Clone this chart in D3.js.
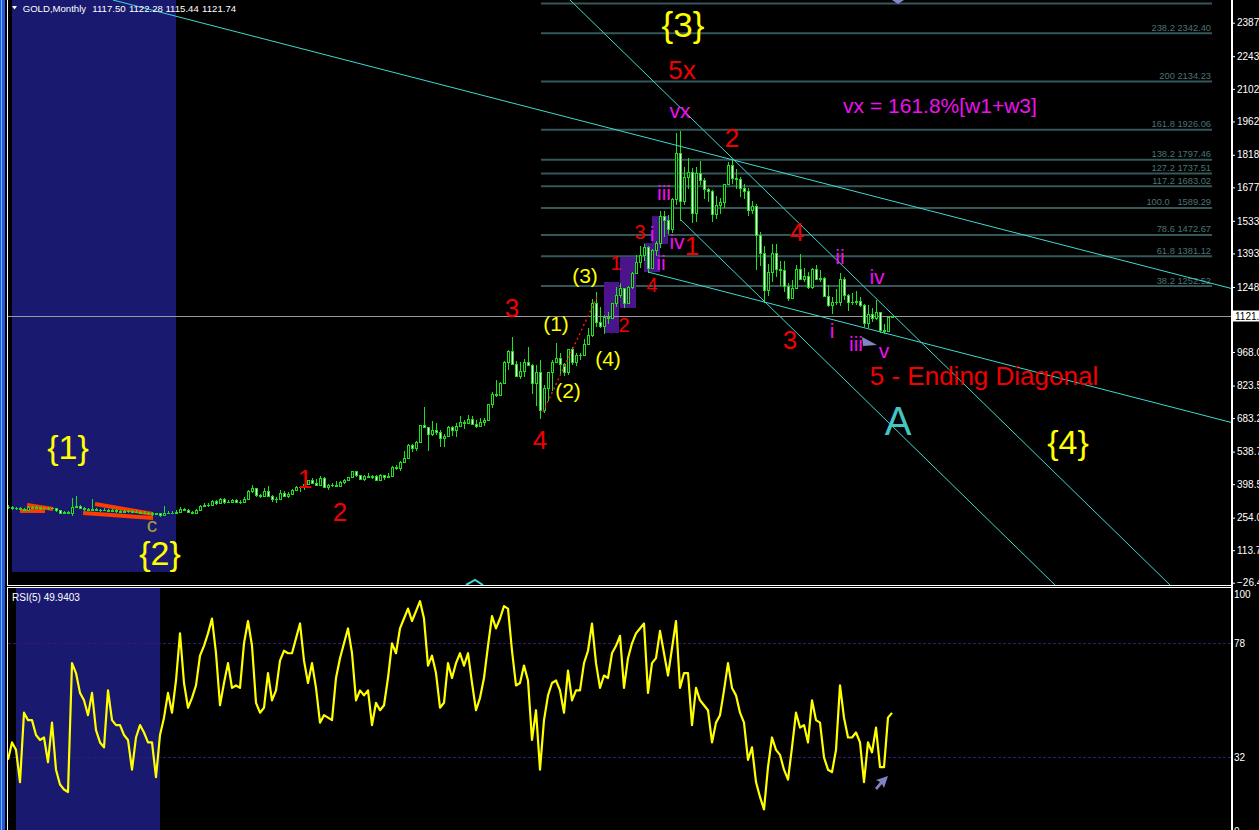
<!DOCTYPE html>
<html><head><meta charset="utf-8">
<script src="https://cdn.jsdelivr.net/npm/d3@7"></script>
<style>
html,body{margin:0;padding:0;background:#000;overflow:hidden}
svg{display:block}
text{font-family:"Liberation Sans",Arial,sans-serif}
</style></head><body>
<svg id="c" width="1259" height="830"></svg>
<script>
// ---------------- DATA ----------------
const symbolTitle = "GOLD,Monthly";
const headerOHLC = ["1117.50", "1122.28", "1115.44", "1121.74"];
const rsiTitle = "RSI(5) 49.9403";

const firstOpen = 302;
// monthly closes, highs, lows (bar index 0 .. 221)
const closes = [
 300,296,294,292,287,300,296,298,294,297, 295,296,285,276,277,275,300,305,296,290,
 288,292,287,285,288,284,286,282,280,284, 281,278,280,276,275,272,270,272,266,272,
 275,276,279,290,288,277,276,288,305,309, 309,326,318,335,322,322,331,322,322,335,
 368,380,352,347,
 367,347,334,336,361,346,354,375,385,386,398,416,
 402,396,426,387,394,395,391,408,416,429,453,438,
 422,435,428,435,417,436,429,433,473,470,495,513,
 568,556,582,654,643,613,632,623,599,604,646,632,
 650,665,663,679,659,650,665,673,743,789,783,834,
 923,971,916,864,885,926,912,833,884,718,815,884,
 927,942,916,883,979,927,955,955,1001,1040,1181,1097,
 1081,1118,1113,1179,1212,1244,1181,1248,1307,1357,1387,1421,
 1332,1410,1439,1556,1536,1500,1628,1826,1620,1722,1746,1566,
 1738,1711,1669,1664,1562,1604,1614,1691,1773,1719,1713,1675,
 1664,1579,1596,1472,1393,1234,1312,1396,1327,1323,1253,1202,
 1244,1326,1284,1296,1250,1327,1282,1287,1210,1172,1182,1184,
 1283,1212,1183,1183,1190,1172,1095,1133,1115,1142,1065,1060,
 1117,1121.74
];
const highs = [
 310,304,300,298,295,306,304,303,300,302, 300,301,297,287,283,281,340,348,309,299,
 295,335,296,291,294,292,291,290,287,289, 288,286,285,284,281,279,277,276,274,305,
 281,282,286,298,295,292,283,293,309,316, 318,330,328,340,338,329,335,334,328,345,
 375,395,383,358,
 383,389,352,341,373,371,366,376,392,392,400,417,
 427,420,432,428,399,403,410,411,419,431,456,457,
 437,437,447,438,436,443,438,448,475,479,497,541,
 570,573,585,654,730,643,669,663,634,613,649,648,
 660,691,673,696,692,676,682,685,745,795,848,837,
 930,975,1033,930,924,938,989,918,912,932,825,881,
 933,1006,964,920,981,990,965,964,1025,1070,1195,1227,
 1162,1126,1139,1181,1249,1266,1245,1254,1315,1388,1424,1432,
 1424,1411,1447,1575,1577,1560,1632,1913,1921,1764,1803,1763,
 1764,1791,1718,1676,1668,1641,1630,1691,1788,1796,1755,1723,
 1694,1676,1617,1605,1487,1423,1348,1433,1434,1362,1361,1267,
 1280,1345,1392,1331,1315,1332,1345,1323,1292,1255,1204,1238,
 1307,1290,1219,1224,1232,1205,1175,1170,1157,1191,1142,1088,
 1123,1122.28
];
const lows = [
 290,289,288,285,281,283,290,292,289,291, 289,290,280,270,271,268,262,296,290,284,
 282,283,281,279,282,278,280,276,274,277, 275,272,273,270,269,266,262,264,258,264,
 268,270,272,275,281,272,270,274,286,298, 300,305,310,314,315,316,318,316,315,318,
 330,362,345,338,
 342,345,320,319,335,341,340,350,369,366,375,398,
 400,392,390,382,372,384,387,388,398,411,423,430,
 419,411,425,420,414,414,417,428,433,460,456,489,
 515,538,540,582,642,542,604,612,560,560,600,608,
 603,648,636,660,654,640,646,648,671,725,776,780,
 834,891,914,862,850,860,907,786,737,681,705,759,
 802,921,865,865,867,912,908,932,952,1000,1033,1075,
 1072,1045,1087,1110,1164,1203,1156,1176,1240,1305,1331,1360,
 1308,1325,1381,1418,1462,1478,1480,1604,1534,1600,1669,1523,
 1530,1689,1627,1613,1527,1540,1562,1587,1691,1692,1672,1635,
 1626,1555,1562,1321,1338,1180,1208,1270,1293,1251,1227,1187,
 1202,1240,1277,1268,1240,1240,1281,1272,1207,1161,1131,1170,
 1167,1191,1143,1170,1169,1162,1077,1072,1098,1106,1052,1046,
 1058,1115.44
];
// RSI(5) per bar
const rsiValues = [
 31,38,35,22,50,47,47,41,39,40, 30,46,27,21,19,18,70,66,58,55,
 49,58,43,38,36,59,47,45,45,41, 39,27,40,45,42,38,38,24,41,48,
 58,50,63,82,62,52,56,61,73,77, 82,88,74,53,62,70,60,61,60,78,
 87,77,54,50,52,66,55,59,71,75, 74,74,80,86,71,62,70,60,46,49,
 48,47,64,72,78,84,74,55,59,57, 59,45,54,51,53,64,78,74,84,88,
 92,87,91,95,88,69,73,66,52,54, 70,64,70,74,69,74,62,51,56,64,
 77,89,84,88,93,92,75,61,62,69, 63,39,51,27,47,57,62,63,59,50,
 67,55,59,59,70,75,86,70,60,65, 64,74,77,81,60,72,78,82,84,86,
 58,70,72,83,74,65,76,87,60,66, 66,45,60,55,53,51,38,46,49,59,
 70,60,57,50,46,31,36,22,16,11, 28,40,35,33,27,23,36,50,44,45,
 38,55,47,46,32,27,26,35,61,48, 40,40,42,38,22,38,34,44,28,28,
 48,49.94
];

const priceTicks = [2387.85,2243.45,2102.50,1962.05,1818.35,1677.90,1533.50,1393.05,1248.65,
  968.05,823.55,683.20,538.70,398.50,254.00,113.70,-26.45];
const rsiTicks = [100,78,32,0];
const rsiLevels = [78,32];

const fibRatios = ["261.8","238.2","200","161.8","138.2","127.2","117.2","100.0","78.6","61.8","38.2"];
const fibPrices = [2471.03,2342.40,2134.23,1926.06,1797.46,1737.51,1683.02,1589.29,1472.67,1381.12,1252.52];
const fibBarSpan = [133.25, 301];

// trend lines: [bar1, price1, bar2, price2]
const cyanLines = [
  [26.25, 2485.7, 305.75, 1242.4],
  [160, 1313.1, 305.75, 664.7],
  [140.5, 2485.7, 290.5, -36.3],
  [168.25, 1537.3, 261.75, -36.3]
];
const orangeLines = [
  [3, 282.8, 9.25, 282.8],
  [4.75, 308.6, 11.25, 291.4],
  [21.75, 313.0, 36.25, 269.8],
  [18.75, 274.2, 36.25, 252.6]
];
const redDotted = [133.75, 709.6, 147.25, 1205.3];
// purple boxes: [barFrom, barTo, priceLow, priceHigh]
const purpleBoxes = [
  [149, 152.75, 1050, 1270],
  [153, 157, 1158, 1378],
  [159, 163, 1313, 1438],
  [161, 165, 1434, 1554]
];
const mainShade = [1, 42, 19.8];
const rsiShade = [2, 38];

// annotations: text, bar, price, font size, colour
const labels = [
  ["{3}",168.75,2382,35,"#ffff00"],["{1}",15,559,34,"#ffff00"],["{2}",38,100,34,"#ffff00"],["{4}",265,580,34,"#ffff00"],
  ["5x",168.5,2184,26,"#f00000"],["2",181,1891,26,"#f00000"],["4",197.25,1485,26,"#f00000"],["3",195.5,1020,26,"#f00000"],
  ["1",74.25,421,26,"#f00000"],["2",83,278,26,"#f00000"],["3",126,1158,26,"#f00000"],["4",133,589,26,"#f00000"],
  ["1",171,1425,26,"#f00000"],["5 - Ending Diagonal",244,865,26,"#f00000"],
  ["1",152,1352,20,"#f00000"],["3",158,1485,20,"#f00000"],["2",154,1085,20,"#f00000"],["4",161,1257,20,"#f00000"],
  ["vx",168,2010,21,"#ee11ee"],["vx = 161.8%[w1+w3]",233,2029,21,"#ee11ee"],["iii",164,1654,21,"#ee11ee"],
  ["i",161,1477,21,"#ee11ee"],["iv",167.25,1445,21,"#ee11ee"],["ii",163.25,1352,21,"#ee11ee"],["ii",208,1382,21,"#ee11ee"],
  ["iv",217.25,1295,21,"#ee11ee"],["i",206,1059,21,"#ee11ee"],["iii",212,1005,21,"#ee11ee"],["v",219,975,21,"#ee11ee"],
  ["(3)",144.25,1300,21,"#ffff00"],["(1)",137,1093,21,"#ffff00"],["(4)",150,938,21,"#ffff00"],["(2)",140,804,21,"#ffff00"],
  ["A",222.5,671,40,"#44c4c4"],["c",36,226,21,"#a0a040"]
];
const markers = {
  iiiArrow: [215.5, 1011],
  topArrow: [222.5, 2485.7],
  cyanChevron: [116.75, -14.7],
  rsiArrow: [218.25, 21.6]
};

// ---------------- CHART ----------------
const W = 1259, H = 830;
const LIME = "#1ee01e";
const svg = d3.select("#c");
svg.append("rect").attr("width", W).attr("height", H).attr("fill", "#000");

const xS = d3.scaleLinear().domain([0, 221]).range([8, 892]);
const yP = d3.scaleLinear().domain([-26.45, 2387.85]).range([582.7, 22.7]);
const yR = d3.scaleLinear().domain([0, 100]).range([836.6, 588.8]);

const defs = svg.append("defs");
defs.append("clipPath").attr("id", "cm").append("rect").attr("x", 8).attr("y", 0).attr("width", 1223).attr("height", 585);
defs.append("clipPath").attr("id", "cr").append("rect").attr("x", 8).attr("y", 588).attr("width", 1223).attr("height", 242);

// window frame stripes
svg.append("rect").attr("x", 0).attr("y", 0).attr("width", 5).attr("height", H).attr("fill", "#1f5bd6");
svg.append("rect").attr("x", 1).attr("y", 0).attr("width", 1).attr("height", H).attr("fill", "#7fb0ff");

// ---- main panel ----
const gM = svg.append("g").attr("clip-path", "url(#cm)");
gM.append("rect").attr("x", xS(mainShade[0])).attr("y", 0)
  .attr("width", xS(mainShade[1]) - xS(mainShade[0])).attr("height", yP(mainShade[2])).attr("fill", "#191970");

// fib levels
const fibG = gM.append("g");
fibG.selectAll("line").data(fibPrices).join("line")
  .attr("x1", xS(fibBarSpan[0])).attr("x2", xS(fibBarSpan[1]))
  .attr("y1", d => yP(d)).attr("y2", d => yP(d))
  .attr("stroke", "#355757").attr("stroke-width", 2);
fibG.selectAll("text").data(fibPrices.filter(d => yP(d) > 12)).join("text")
  .attr("x", xS(fibBarSpan[1]) - 1).attr("y", d => yP(d) - 2.5)
  .attr("text-anchor", "end").attr("font-size", 9.3).attr("fill", "#4a7474")
  .text(d => { const r = fibRatios[fibPrices.indexOf(d)]; return r + (r === "100.0" ? "\u00a0\u00a0\u00a0" : " ") + d.toFixed(2); });

// purple boxes
gM.selectAll("rect.pb").data(purpleBoxes).join("rect").attr("class", "pb")
  .attr("x", d => xS(d[0])).attr("width", d => xS(d[1]) - xS(d[0]))
  .attr("y", d => yP(d[3])).attr("height", d => yP(d[2]) - yP(d[3]))
  .attr("fill", "#4b148c");

// current price line
const lastClose = closes[closes.length - 1];
gM.append("line").attr("x1", 8).attr("x2", 1231)
  .attr("y1", Math.round(yP(lastClose)) + 0.5).attr("y2", Math.round(yP(lastClose)) + 0.5)
  .attr("stroke", "#9a9a9a").attr("stroke-width", 1);

// orange channel strokes
gM.selectAll("line.or").data(orangeLines).join("line").attr("class", "or")
  .attr("x1", d => xS(d[0])).attr("y1", d => yP(d[1])).attr("x2", d => xS(d[2])).attr("y2", d => yP(d[3]))
  .attr("stroke", "#ff3c00").attr("stroke-width", 4);

// candles
const bars = closes.map((c, i) => {
  const o = i ? closes[i - 1] : firstOpen;
  return { i, o, c, h: Math.max(highs[i], o, c), l: Math.min(lows[i], o, c) };
});
const cg = gM.append("g").attr("shape-rendering", "crispEdges");
cg.selectAll("rect.wick").data(bars).join("rect").attr("class", "wick")
  .attr("x", d => Math.round(xS(d.i))).attr("width", 1)
  .attr("y", d => Math.round(yP(d.h)))
  .attr("height", d => Math.max(1, Math.round(yP(d.l)) - Math.round(yP(d.h))))
  .attr("fill", LIME);
const bt = d => Math.round(yP(Math.max(d.o, d.c)));
const bb = d => Math.round(yP(Math.min(d.o, d.c)));
cg.selectAll("rect.body").data(bars).join("rect").attr("class", "body")
  .attr("x", d => Math.round(xS(d.i)) - 1).attr("width", 3)
  .attr("y", bt).attr("height", d => Math.max(1, bb(d) - bt(d) + 1))
  .attr("fill", LIME);
cg.selectAll("rect.inner").data(bars.filter(d => bb(d) - bt(d) >= 2)).join("rect").attr("class", "inner")
  .attr("x", d => Math.round(xS(d.i))).attr("width", 1)
  .attr("y", d => bt(d) + 1).attr("height", d => bb(d) - bt(d) - 1)
  .attr("fill", d => d.c >= d.o ? "#000" : "#fff");

// cyan trend lines
gM.selectAll("line.cy").data(cyanLines).join("line").attr("class", "cy")
  .attr("x1", d => xS(d[0])).attr("y1", d => yP(d[1])).attr("x2", d => xS(d[2])).attr("y2", d => yP(d[3]))
  .attr("stroke", "#3fd8d0").attr("stroke-width", 1);

// red dotted
gM.append("line")
  .attr("x1", xS(redDotted[0])).attr("y1", yP(redDotted[1])).attr("x2", xS(redDotted[2])).attr("y2", yP(redDotted[3]))
  .attr("stroke", "#ff1010").attr("stroke-width", 1.5).attr("stroke-dasharray", "2,3");

// annotations
gM.selectAll("text.lab").data(labels).join("text").attr("class", "lab")
  .attr("x", d => xS(d[1])).attr("y", d => yP(d[2]))
  .attr("text-anchor", "middle").attr("dominant-baseline", "central")
  .attr("font-size", d => d[3]).attr("fill", d => d[4]).text(d => d[0]);

// markers
const mk = markers;
gM.append("path").attr("transform", `translate(${xS(mk.iiiArrow[0])},${yP(mk.iiiArrow[1])})`)
  .attr("d", "M-8,-5L7,3L-7,4Z").attr("fill", "#8484c8");
gM.append("path").attr("transform", `translate(${xS(mk.topArrow[0])},${yP(mk.topArrow[1])})`)
  .attr("d", "M-6,0L6,0L0,4Z").attr("fill", "#8484c8");
gM.append("path").attr("transform", `translate(${xS(mk.cyanChevron[0])},${yP(mk.cyanChevron[1])})`)
  .attr("d", "M-9,5L0,0L8,5").attr("fill", "none").attr("stroke", "#3fd8d0").attr("stroke-width", 2);

// header
svg.append("path").attr("d", "M12,6L17,6L14.5,9.5Z").attr("fill", "#fff");
svg.append("text").attr("x", 22.7).attr("y", 11.5).attr("font-size", 9.6).attr("fill", "#fff").text(symbolTitle);
svg.selectAll("text.ohlc").data(headerOHLC).join("text").attr("class", "ohlc")
  .attr("x", (d, i) => 92.3 + i * 36.6).attr("y", 11.5).attr("font-size", 9.6).attr("fill", "#fff").text(d => d);

// main frame
svg.append("line").attr("x1", 7.5).attr("x2", 7.5).attr("y1", 0).attr("y2", 586).attr("stroke", "#fff");
svg.append("line").attr("x1", 7).attr("x2", 1233).attr("y1", 585.5).attr("y2", 585.5).attr("stroke", "#fff");

// price axis
const ax = svg.append("g").attr("transform", "translate(1233,0)")
  .call(d3.axisRight(yP).tickValues(priceTicks).tickSize(2).tickPadding(2).tickFormat(d3.format(".2f")));
ax.select(".domain").remove();
ax.selectAll("line").attr("stroke", "#fff");
ax.selectAll("text").attr("fill", "#fff").attr("font-size", 10).attr("font-family", "Liberation Sans, Arial, sans-serif");

// current price box
const cpY = Math.round(yP(lastClose));
svg.append("rect").attr("x", 1233).attr("y", cpY - 5.5).attr("width", 30).attr("height", 11).attr("fill", "#fff");
svg.append("text").attr("x", 1235).attr("y", cpY).attr("dominant-baseline", "central")
  .attr("font-size", 10).attr("fill", "#000").text(lastClose.toFixed(2));

// ---- RSI panel ----
const gR = svg.append("g").attr("clip-path", "url(#cr)");
gR.append("rect").attr("x", xS(rsiShade[0])).attr("y", 588)
  .attr("width", xS(rsiShade[1]) - xS(rsiShade[0])).attr("height", 242).attr("fill", "#191970");
gR.selectAll("line.lv").data(rsiLevels).join("line").attr("class", "lv")
  .attr("x1", 8).attr("x2", 1231).attr("y1", d => Math.round(yR(d)) + 0.5).attr("y2", d => Math.round(yR(d)) + 0.5)
  .attr("stroke", "#3a1670").attr("stroke-width", 1).attr("stroke-dasharray", "3,2");
gR.append("path").datum(rsiValues)
  .attr("d", d3.line().x((d, i) => xS(i)).y(d => yR(d)))
  .attr("fill", "none").attr("stroke", "#ffff00").attr("stroke-width", 2.2).attr("stroke-linejoin", "round");
gR.append("path").attr("transform", `translate(${xS(mk.rsiArrow[0])},${yR(mk.rsiArrow[1])})`)
  .attr("d", "M7,-7L-5,-3L-1,-1L-6,5L-4,7L1,1L3,5Z").attr("fill", "#8080c4");
svg.append("text").attr("x", 12).attr("y", 601).attr("font-size", 10).attr("fill", "#fff").text(rsiTitle);

// RSI frame
svg.append("line").attr("x1", 7).attr("x2", 1233).attr("y1", 587.5).attr("y2", 587.5).attr("stroke", "#fff");
svg.append("line").attr("x1", 7.5).attr("x2", 7.5).attr("y1", 587).attr("y2", H).attr("stroke", "#fff");

// RSI axis
const rax = svg.append("g").attr("transform", "translate(1233,0)")
  .call(d3.axisRight(yR).tickValues(rsiTicks).tickSize(0).tickPadding(1).tickFormat(d3.format("d")));
rax.select(".domain").remove();
rax.selectAll("text").attr("fill", "#fff").attr("font-size", 10).attr("font-family", "Liberation Sans, Arial, sans-serif")
  .attr("dy", d => d === 100 ? "0.85em" : (d === 0 ? "-0.25em" : "0.32em"));

// right axis line (full height)
svg.append("rect").attr("x", 1231).attr("y", 0).attr("width", 2).attr("height", H).attr("fill", "#fff");
</script></body></html>
